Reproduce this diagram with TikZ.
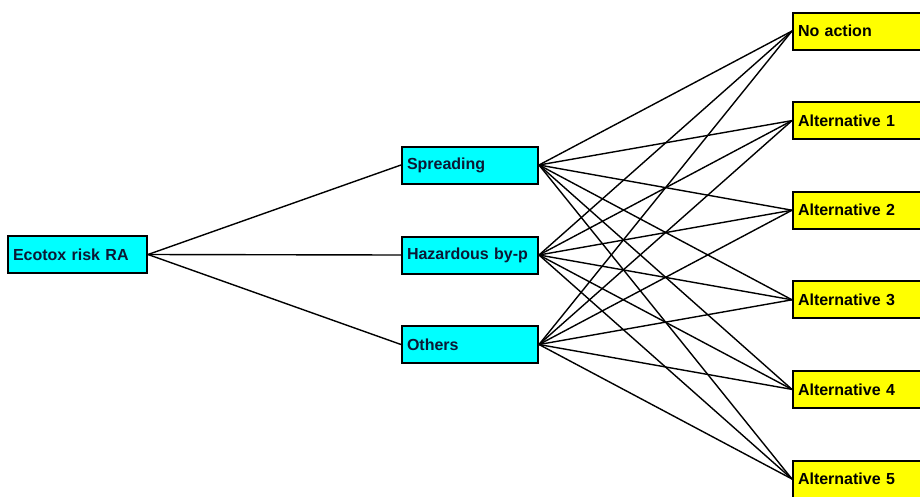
\documentclass[tikz,border=0pt]{standalone}
\usepackage{fontspec}
\setmainfont{Liberation Sans}
\usepackage{tikz}
\usetikzlibrary{arrows.meta}
\usepackage[dvipsnames,svgnames,x11names]{xcolor}

\definecolor{caixacian}{RGB}{0,255,255}
\definecolor{caixagroga}{RGB}{255,255,0}
\definecolor{textfosc}{RGB}{12,24,52}

\tikzset{
    criteri/.style={
        draw=black,
        line width=2pt,
        fill=caixacian,
        text=textfosc,
        font=\bfseries\fontsize{16}{18}\selectfont,
        minimum height=37pt,
        inner xsep=5pt,
        align=left
    },
    alternativa/.style={
        draw=black,
        line width=2pt,
        fill=caixagroga,
        text=black,
        font=\bfseries\fontsize{16}{18}\selectfont,
        minimum height=37pt,
        text width=120pt,
        inner xsep=5pt,
        align=left
    },
    enllac/.style={
        line width=1.4pt,
        black
    }
}

\begin{document}
\begin{tikzpicture}[x=1pt, y=-1pt]

% Marc de la figura
\useasboundingbox (0,0) rectangle (920,496);
\fill[white] (0,0) rectangle (920,496);
\clip (0,0) rectangle (920,496);

% Node arrel
\node[criteri, text width=129pt] (ecotox) at (77.5,254.5) {Ecotox risk RA};

% Criteris intermedis
\node[criteri, text width=126pt] (spreading) at (470,165) {Spreading};
\node[criteri, text width=126pt] (hazard) at (470,255) {Hazardous by-p};
\node[criteri, text width=126pt] (others) at (470,344.5) {Others};

% Alternatives
\node[alternativa] (noaction) at (858,31) {No action};
\node[alternativa] (alt1) at (858,120.6) {Alternative 1};
\node[alternativa] (alt2) at (858,210.2) {Alternative 2};
\node[alternativa] (alt3) at (858,299.8) {Alternative 3};
\node[alternativa] (alt4) at (858,389.4) {Alternative 4};
\node[alternativa] (alt5) at (858,479) {Alternative 5};

% Arrel cap als criteris
\draw[enllac] (ecotox.east) -- (spreading.west);
\draw[enllac] (ecotox.east) -- (hazard.west);
\draw[enllac] (ecotox.east) -- (others.west);

% Criteris cap a les alternatives
\draw[enllac] (spreading.east) -- (noaction.west);
\draw[enllac] (spreading.east) -- (alt1.west);
\draw[enllac] (spreading.east) -- (alt2.west);
\draw[enllac] (spreading.east) -- (alt3.west);
\draw[enllac] (spreading.east) -- (alt4.west);
\draw[enllac] (spreading.east) -- (alt5.west);

\draw[enllac] (hazard.east) -- (noaction.west);
\draw[enllac] (hazard.east) -- (alt1.west);
\draw[enllac] (hazard.east) -- (alt2.west);
\draw[enllac] (hazard.east) -- (alt3.west);
\draw[enllac] (hazard.east) -- (alt4.west);
\draw[enllac] (hazard.east) -- (alt5.west);

\draw[enllac] (others.east) -- (noaction.west);
\draw[enllac] (others.east) -- (alt1.west);
\draw[enllac] (others.east) -- (alt2.west);
\draw[enllac] (others.east) -- (alt3.west);
\draw[enllac] (others.east) -- (alt4.west);
\draw[enllac] (others.east) -- (alt5.west);

\end{tikzpicture}
\end{document}
